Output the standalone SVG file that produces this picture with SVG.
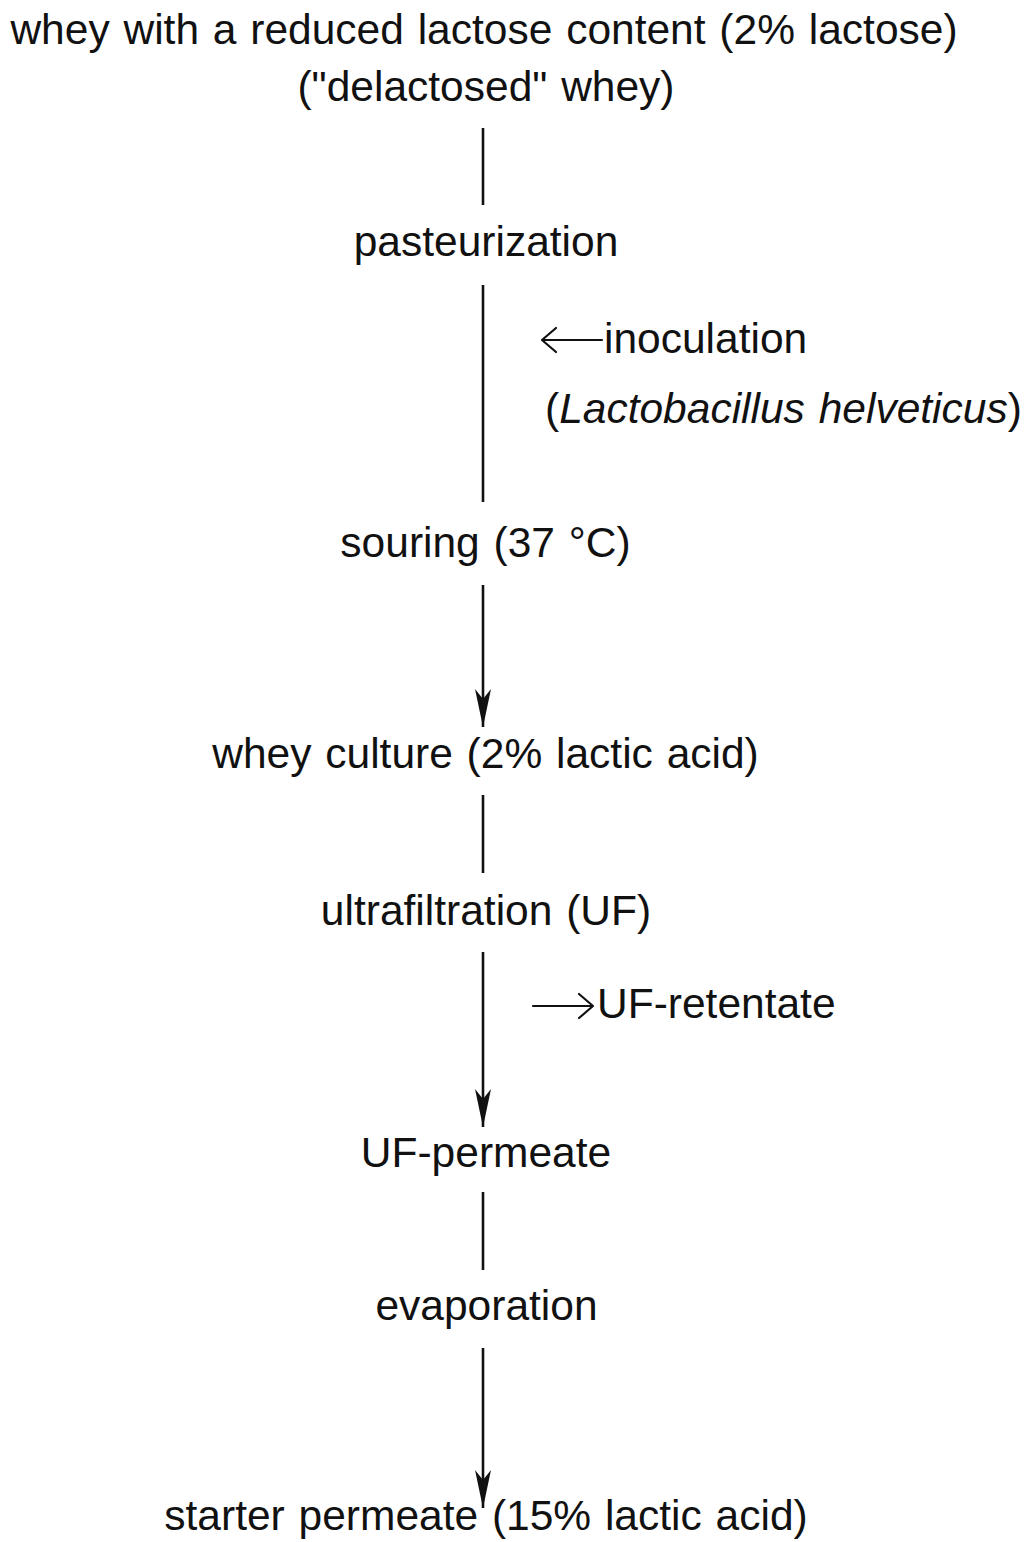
<svg xmlns="http://www.w3.org/2000/svg" width="1029" height="1542" viewBox="0 0 1029 1542">
  <style>
    text { font-family: "Liberation Sans", Arial, Helvetica, sans-serif; font-size: 42.5px; word-spacing: 2px; fill: #111; }
    .c { text-anchor: middle; }
    .flow { stroke: #111; stroke-width: 2.6; fill: none; }
    .side { stroke: #111; stroke-width: 2.2; fill: none; stroke-linecap: round; stroke-linejoin: round; }
  </style>
  <defs>
    <!-- barbed arrowhead, drawn along +x so orient="auto" follows the line -->
    <marker id="head" viewBox="0 0 38 16" markerWidth="38" markerHeight="16" refX="38" refY="8" orient="auto" markerUnits="userSpaceOnUse">
      <path d="M0,0 L10,8 L0,16 L38,8 Z" fill="#111"/>
    </marker>
  </defs>
  <rect width="1029" height="1542" fill="#fff"/>

  <!-- process steps -->
  <g id="whey-input">
    <text class="c" x="484" y="44">whey with a reduced lactose content (2% lactose)</text>
    <text class="c" x="486" y="101">("delactosed" whey)</text>
  </g>
  <g id="pasteurization"><text class="c" x="486" y="256">pasteurization</text></g>
  <g id="inoculation">
    <text x="604" y="353">inoculation</text>
    <text x="545" y="423">(<tspan font-style="italic">Lactobacillus helveticus</tspan>)</text>
  </g>
  <g id="souring"><text class="c" x="485.5" y="557">souring (37 °C)</text></g>
  <g id="whey-culture"><text class="c" x="485.5" y="768">whey culture (2% lactic acid)</text></g>
  <g id="ultrafiltration"><text class="c" x="486" y="925">ultrafiltration (UF)</text></g>
  <g id="uf-retentate"><text x="597" y="1018">UF-retentate</text></g>
  <g id="uf-permeate"><text class="c" x="486" y="1167">UF-permeate</text></g>
  <g id="evaporation"><text class="c" x="486.5" y="1320">evaporation</text></g>
  <g id="starter-permeate"><text class="c" x="486" y="1530">starter permeate (15% lactic acid)</text></g>

  <!-- connectors -->
  <g id="connectors">
    <line class="flow" x1="483" y1="128" x2="483" y2="205"/>
    <line class="flow" x1="483" y1="285" x2="483" y2="502"/>
    <line class="flow" x1="483" y1="585" x2="483" y2="727" marker-end="url(#head)"/>
    <line class="flow" x1="483" y1="795" x2="483" y2="873"/>
    <line class="flow" x1="483" y1="952" x2="483" y2="1127" marker-end="url(#head)"/>
    <line class="flow" x1="483" y1="1192" x2="483" y2="1270"/>
    <line class="flow" x1="483" y1="1348" x2="483" y2="1508" marker-end="url(#head)"/>
    <!-- side streams: inoculum in, retentate out -->
    <path class="side" d="M602,340 H542 M556,328 L542,340 L556,352"/>
    <path class="side" d="M533,1006 H593 M579,994 L593,1006 L579,1018"/>
  </g>
</svg>
